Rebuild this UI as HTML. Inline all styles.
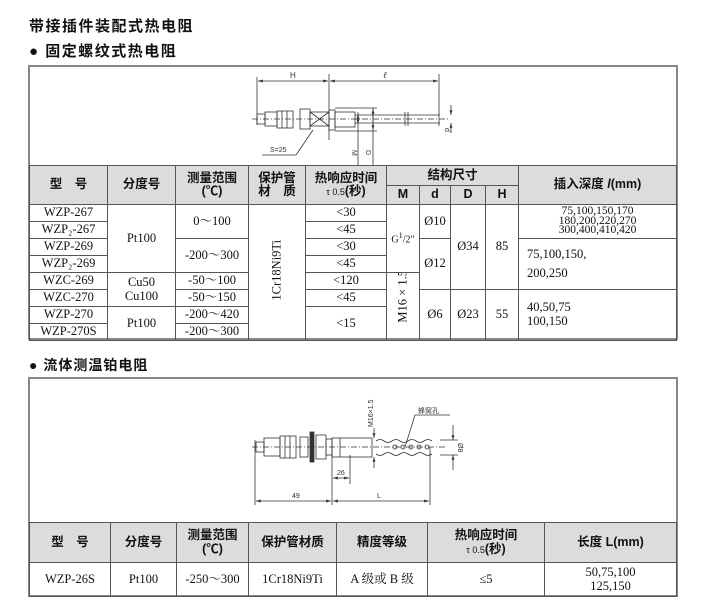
<!DOCTYPE html>
<html><head><meta charset="utf-8"><style>
body{margin:0;width:707px;height:609px;background:#fff;position:relative;overflow:hidden;font-family:"Liberation Sans","Noto Sans CJK SC",sans-serif;color:#111}
.t{position:absolute;white-space:nowrap}
table{position:absolute;border-collapse:collapse;table-layout:fixed}
td{border:1px solid #555;text-align:center;padding:0;font-family:"Liberation Serif","Noto Serif CJK SC",serif;font-size:12.5px;line-height:1.05;overflow:hidden}
td.h{background:#dcdcdc;font-family:"Liberation Sans","Noto Sans CJK SC",sans-serif;font-size:12.5px;font-weight:bold}
.box{position:absolute;border:2px solid #888;box-sizing:border-box}
small{font-size:9px;font-weight:normal}
</style></head><body>
<div class="t" style="left:29px;top:15px;font-size:15px;letter-spacing:1.5px;font-weight:bold">带接插件装配式热电阻</div>
<div class="t" style="left:29px;top:40px;font-size:15px;letter-spacing:1.5px;font-weight:bold">● 固定螺纹式热电阻</div>
<div class="box" style="left:28px;top:65px;width:650px;height:275px"></div>
<svg style="position:absolute;left:0;top:0" width="707" height="609" stroke="#333" fill="none" stroke-width="0.8">
<defs><marker id="a" viewBox="0 0 10 10" refX="10" refY="5" markerWidth="6" markerHeight="6" orient="auto-start-reverse"><path d="M0 2 L10 5 L0 8z" fill="#333" stroke="none"/></marker></defs>
<!-- drawing 1 -->
<line x1="257" y1="77" x2="257" y2="125"/><line x1="329" y1="74" x2="329" y2="140"/><line x1="439" y1="74" x2="439" y2="126"/>
<line x1="258" y1="81" x2="328" y2="81" marker-start="url(#a)" marker-end="url(#a)"/><line x1="330" y1="81" x2="438" y2="81" marker-start="url(#a)" marker-end="url(#a)"/>
<text x="290" y="78" font-size="8" fill="#333" stroke="none" font-family="Liberation Sans">H</text>
<text x="383" y="78" font-size="9" fill="#333" stroke="none" font-family="Liberation Serif" font-style="italic">ℓ</text>
<rect x="257" y="114" width="8" height="10"/><rect x="265" y="112" width="12" height="14"/><rect x="277" y="111" width="16" height="17"/>
<line x1="282" y1="111" x2="282" y2="128"/><line x1="287" y1="111" x2="287" y2="128"/>
<rect x="300" y="109" width="10" height="20"/><rect x="310" y="112" width="19" height="14"/>
<line x1="310" y1="112" x2="329" y2="126"/><line x1="310" y1="126" x2="329" y2="112"/>
<rect x="329" y="110" width="6" height="20"/><rect x="335" y="112" width="20" height="15"/>
<line x1="335" y1="108" x2="377" y2="108"/><line x1="335" y1="131" x2="377" y2="131"/>
<line x1="355" y1="115" x2="440" y2="115"/><line x1="355" y1="123" x2="440" y2="123"/>
<line x1="405" y1="112" x2="405" y2="126"/><line x1="408" y1="112" x2="408" y2="126"/>
<line x1="252" y1="119" x2="450" y2="119" stroke-dasharray="6,2,1,2"/>
<line x1="358" y1="112" x2="358" y2="165"/><line x1="373" y1="108" x2="373" y2="165"/>
<line x1="358" y1="114" x2="358" y2="124" marker-start="url(#a)" marker-end="url(#a)"/>
<line x1="373" y1="109" x2="373" y2="130" marker-start="url(#a)" marker-end="url(#a)"/>
<line x1="451" y1="105" x2="451" y2="115" marker-end="url(#a)"/><line x1="451" y1="133" x2="451" y2="123" marker-end="url(#a)"/>
<text x="352" y="150" font-size="7" fill="#333" stroke="none" transform="rotate(90 352 150)">M</text>
<text x="366" y="150" font-size="7" fill="#333" stroke="none" transform="rotate(90 366 150)">D</text>
<text x="445" y="128" font-size="7" fill="#333" stroke="none" transform="rotate(90 445 128)">d</text>
<line x1="313" y1="130" x2="296" y2="155"/><line x1="296" y1="155" x2="262" y2="155"/>
<text x="270" y="152" font-size="7" fill="#333" stroke="none" font-family="Liberation Sans">S=25</text>
<!-- drawing 2 -->
<line x1="255" y1="440" x2="255" y2="505"/><line x1="332" y1="440" x2="332" y2="505"/><line x1="350" y1="455" x2="350" y2="484"/><line x1="430" y1="447" x2="430" y2="505"/>
<line x1="256" y1="501" x2="331" y2="501" marker-start="url(#a)" marker-end="url(#a)"/><line x1="333" y1="501" x2="429" y2="501" marker-start="url(#a)" marker-end="url(#a)"/><line x1="333" y1="478" x2="349" y2="478" marker-start="url(#a)" marker-end="url(#a)"/>
<text x="292" y="498" font-size="7" fill="#333" stroke="none">49</text><text x="377" y="498" font-size="7" fill="#333" stroke="none">L</text><text x="337" y="475" font-size="7" fill="#333" stroke="none">26</text>
<rect x="256" y="442" width="8" height="10"/><rect x="264" y="438" width="16" height="18"/><rect x="280" y="436" width="16" height="22"/>
<line x1="285" y1="436" x2="285" y2="458"/><line x1="290" y1="436" x2="290" y2="458"/>
<rect x="300" y="437" width="8" height="20"/><rect x="310" y="432" width="4" height="30" fill="#333"/><rect x="316" y="435" width="10" height="24"/><rect x="326" y="439" width="6" height="16"/>
<rect x="332" y="438" width="40" height="19"/><line x1="340" y1="438" x2="340" y2="457"/>
<path d="M376 441 q4 -3 8 0 q4 3 8 0 q4 -3 8 0 q4 3 8 0 q4 -3 8 0 q4 3 8 0 q4 -3 8 0"/>
<path d="M376 454 q4 3 8 0 q4 -3 8 0 q4 3 8 0 q4 -3 8 0 q4 3 8 0 q4 -3 8 0 q4 3 8 0"/>
<circle cx="395" cy="447" r="2"/><circle cx="403" cy="447" r="2"/><circle cx="411" cy="447" r="2"/><circle cx="419" cy="447" r="2"/><circle cx="427" cy="447" r="2"/>
<line x1="252" y1="447" x2="445" y2="447" stroke-dasharray="6,2,1,2"/>
<line x1="374" y1="428" x2="374" y2="438" marker-end="url(#a)"/><line x1="374" y1="468" x2="374" y2="457" marker-end="url(#a)"/>
<text font-size="7" fill="#333" stroke="none" transform="translate(373 427) rotate(-90)">M16×1.5</text>
<line x1="453" y1="425" x2="453" y2="440" marker-end="url(#a)"/><line x1="453" y1="470" x2="453" y2="455" marker-end="url(#a)"/><line x1="440" y1="440" x2="458" y2="440"/><line x1="440" y1="455" x2="458" y2="455"/>
<text x="458" y="443" font-size="7" fill="#333" stroke="none" transform="rotate(90 458 443)">Ø8</text>
<line x1="405" y1="447" x2="415" y2="415"/><line x1="415" y1="415" x2="450" y2="415"/>
<text x="418" y="413" font-size="7" fill="#333" stroke="none" font-family="Noto Sans CJK SC">蜂窝孔</text>
</svg>
<table style="left:29px;top:165px;width:647px">
<colgroup><col style="width:78px"><col style="width:68px"><col style="width:73px"><col style="width:57px"><col style="width:81px"><col style="width:33px"><col style="width:31px"><col style="width:35px"><col style="width:33px"><col style="width:158px"></colgroup>
<tr style="height:20px"><td class="h" rowspan="2">型　号</td><td class="h" rowspan="2">分度号</td><td class="h" rowspan="2">测量范围<br>(℃)</td><td class="h" rowspan="2">保护管<br>材　质</td><td class="h" rowspan="2">热响应时间<br><small>τ 0.5</small>(秒)</td><td class="h" colspan="4">结构尺寸</td><td class="h" rowspan="2">插入深度 <i>l</i>(mm)</td></tr>
<tr style="height:19px"><td class="h">M</td><td class="h">d</td><td class="h">D</td><td class="h">H</td></tr>
<tr style="height:17px"><td>WZP-267</td><td rowspan="4">Pt100</td><td rowspan="2">0～100</td><td rowspan="8"><div style="transform:rotate(-90deg);white-space:nowrap">1Cr18Ni9Ti</div></td><td>&lt;30</td><td rowspan="4" style="font-size:10px">G<sup>1</sup>/2"</td><td rowspan="2">Ø10</td><td rowspan="5">Ø34</td><td rowspan="5">85</td><td rowspan="2" style="font-size:11.5px;line-height:0.85">75,100,150,170<br>180,200,220,270<br>300,400,410,420</td></tr>
<tr style="height:17px"><td>WZP₂-267</td><td>&lt;45</td></tr>
<tr style="height:17px"><td>WZP-269</td><td rowspan="2">-200～300</td><td>&lt;30</td><td rowspan="3">Ø12</td><td rowspan="3" style="text-align:left;padding-left:8px;line-height:1.5">75,100,150,<br>200,250</td></tr>
<tr style="height:17px"><td>WZP₂-269</td><td>&lt;45</td></tr>
<tr style="height:17px"><td>WZC-269</td><td rowspan="2">Cu50<br>Cu100</td><td>-50～100</td><td>&lt;120</td><td rowspan="4"><div style="transform:rotate(-90deg);white-space:nowrap">M16 × 1.5</div></td></tr>
<tr style="height:17px"><td>WZC-270</td><td>-50～150</td><td>&lt;45</td><td rowspan="3">Ø6</td><td rowspan="3">Ø23</td><td rowspan="3">55</td><td rowspan="3" style="text-align:left;padding-left:8px;line-height:1.1">40,50,75<br>100,150</td></tr>
<tr style="height:17px"><td>WZP-270</td><td rowspan="2">Pt100</td><td>-200～420</td><td rowspan="2">&lt;15</td></tr>
<tr style="height:17px"><td>WZP-270S</td><td>-200～300</td></tr>
</table>
<div class="t" style="left:29px;top:355px;font-size:14px;letter-spacing:1px;font-weight:bold">● 流体测温铂电阻</div>
<div class="box" style="left:28px;top:377px;width:650px;height:220px"></div>
<table style="left:29px;top:522px;width:647px">
<colgroup><col style="width:81px"><col style="width:66px"><col style="width:72px"><col style="width:88px"><col style="width:91px"><col style="width:117px"><col style="width:132px"></colgroup>
<tr style="height:40px"><td class="h">型　号</td><td class="h">分度号</td><td class="h">测量范围<br>(℃)</td><td class="h">保护管材质</td><td class="h">精度等级</td><td class="h">热响应时间<br><small>τ 0.5</small>(秒)</td><td class="h">长度 L(mm)</td></tr>
<tr style="height:34px"><td>WZP-26S</td><td>Pt100</td><td>-250～300</td><td>1Cr18Ni9Ti</td><td>A 级或 B 级</td><td>≤5</td><td>50,75,100<br>125,150</td></tr>
</table>
</body></html>
